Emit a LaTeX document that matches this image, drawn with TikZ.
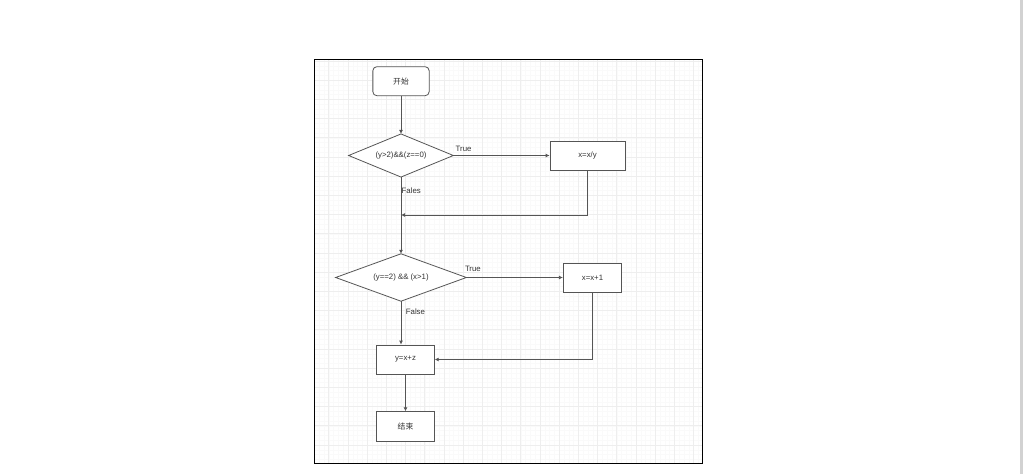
\documentclass[tikz,border=0pt]{standalone}
\usepackage{fontspec}
\setmainfont{Liberation Sans}
\newfontfamily\cjk{Noto Sans CJK SC}
\usetikzlibrary{shapes.geometric,arrows.meta}
\definecolor{ln}{HTML}{555555}
\definecolor{tx}{HTML}{333333}
\begin{document}
\begin{tikzpicture}[x=1pt,y=-1pt,
  every node/.style={font=\fontsize{7.8}{9}\selectfont, text=tx},
  boxnode/.style={draw=ln, line width=0.8pt, fill=white, rectangle, inner sep=0pt},
  dnode/.style={rectangle, inner sep=0pt},
  dshape/.style={draw=ln, line width=0.8pt, fill=white},
  conn/.style={draw=ln, line width=0.8pt},
  arr/.style={conn, -{Latex[length=4pt,width=4pt]}},
  lbl/.style={inner sep=0pt, anchor=west}]
\useasboundingbox (0,0) rectangle (1023,474);
\fill[white] (0,0) rectangle (1023,474);
\fill[gray!35] (1020,0) rectangle (1023,474);
% grid
\begin{scope}
\clip (314.3,59.3) rectangle (702.7,463.3);
\foreach \i in {0,...,84} {
  \draw[gray!4, line width=0.4pt] ({309.5+4.8*\i},55) -- ({309.5+4.8*\i},470);
  \draw[gray!4, line width=0.4pt] (305,{60.9-4.8+4.8*\i}) -- (710,{60.9-4.8+4.8*\i});
}
\foreach \i in {0,...,22} {
  \draw[gray!13, line width=0.5pt] ({309.5+19.2*\i},55) -- ({309.5+19.2*\i},470);
  \draw[gray!13, line width=0.5pt] (305,{60.9+19.2*\i}) -- (710,{60.9+19.2*\i});
}
\end{scope}
\draw[black, line width=1pt] (314.3,59.3) rectangle (702.7,463.3);
% nodes
\node[boxnode, rounded corners=4pt, minimum width=56.3pt, minimum height=29pt] (start) at (401,81.2) {\cjk 开始};
\node[dnode, minimum width=104.3pt, minimum height=42.7pt] (d1) at (401,155.5) {};
\draw[dshape] (d1.north) -- (d1.east) -- (d1.south) -- (d1.west) -- cycle;
\node[inner sep=0pt] (d1t) at (d1.center) {(y>2)\&\&(z==0)};
\node[boxnode, minimum width=75pt, minimum height=29pt] (b1) at (587.5,155.8) {x=x/y};
\node[dnode, minimum width=130.3pt, minimum height=47pt] (d2) at (401,277.5) {};
\draw[dshape] (d2.north) -- (d2.east) -- (d2.south) -- (d2.west) -- cycle;
\node[inner sep=0pt] (d2t) at (d2.center) {(y==2) \&\& (x>1)};
\node[boxnode, minimum width=58.4pt, minimum height=29pt] (b2) at (592.5,277.8) {x=x+1};
\node[boxnode, minimum width=57.6pt, minimum height=29pt] (b3) at (405.5,359.5) {y=x+z};
\node[boxnode, minimum width=57.6pt, minimum height=30pt] (end) at (405.5,426.7) {\cjk 结束};
\coordinate (j1) at (401,215);
% connectors
\draw[arr] (start.south) -- (d1.north);
\draw[arr] (d1.east) -- (b1.west |- d1.east);
\draw[arr] (b1.south) -- (b1.south |- j1) -- (j1);
\draw[arr] (d1.south) -- (d2.north);
\draw[arr] (d2.east) -- (b2.west |- d2.east);
\draw[arr] (d2.south) -- (d2.south |- b3.north);
\draw[arr] (b2.south) -- (b2.south |- b3.east) -- (b3.east);
\draw[arr] (b3.south) -- (end.north);
% labels
\node[lbl] (t1) at (455.5,148.7) {True};
\node[lbl] (f1) at (401.5,190.5) {Fales};
\node[lbl] (t2) at (464.8,268.8) {True};
\node[lbl] (f2) at (405.7,311.7) {False};
\end{tikzpicture}
\end{document}
